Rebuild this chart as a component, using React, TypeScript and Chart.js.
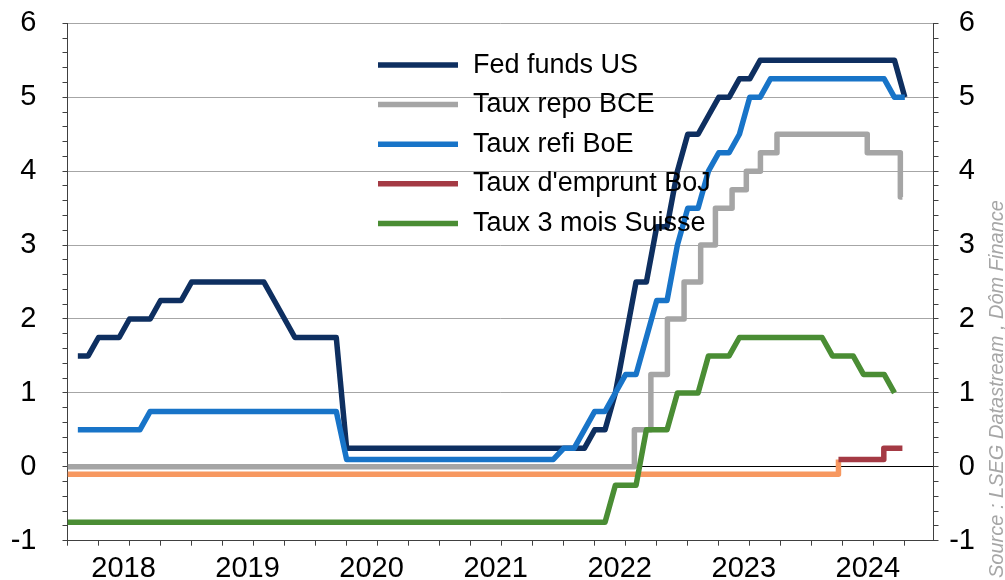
import React, { useEffect, useRef } from 'react';
import { Chart, registerables } from 'chart.js';

Chart.register(...registerables);

const FONT = "'Liberation Sans', Arial, sans-serif";

// ---------- Data ----------
const yearLabels = ['2018', '2019', '2020', '2021', '2022', '2023', '2024'];
const yTickLabels = ['-1', '0', '1', '2', '3', '4', '5', '6'];
const sourceText = 'Source : LSEG Datastream , Dôm Finance';

const seriesNames = ['Fed funds US', 'Taux repo BCE', 'Taux refi BoE', "Taux d'emprunt BoJ", 'Taux 3 mois Suisse'];
const seriesColors = ['#0E2F60', '#A5A5A5', '#1874C8', '#A43A44', '#4A8D34'];
const bojNegativeColor = '#F79860';

// Month-end observations, Dec 2017 .. Sep 2024
const monthEnds: string[] = [];
for (let y = 2017; y <= 2024; y++) {
  for (let m = 1; m <= 12; m++) {
    if ((y === 2017 && m < 12) || (y === 2024 && m > 9)) continue;
    monthEnds.push(`${y}-${String(m).padStart(2, '0')}`);
  }
}

const fedFunds: (number | null)[] = [
  null,
  1.5, 1.5, 1.75, 1.75, 1.75, 2, 2, 2, 2.25, 2.25, 2.25, 2.5,
  2.5, 2.5, 2.5, 2.5, 2.5, 2.5, 2.5, 2.25, 2, 1.75, 1.75, 1.75,
  1.75, 1.75, 0.25, 0.25, 0.25, 0.25, 0.25, 0.25, 0.25, 0.25, 0.25, 0.25,
  0.25, 0.25, 0.25, 0.25, 0.25, 0.25, 0.25, 0.25, 0.25, 0.25, 0.25, 0.25,
  0.25, 0.25, 0.5, 0.5, 1, 1.75, 2.5, 2.5, 3.25, 3.25, 4, 4.5,
  4.5, 4.75, 5, 5, 5.25, 5.25, 5.5, 5.5, 5.5, 5.5, 5.5, 5.5,
  5.5, 5.5, 5.5, 5.5, 5.5, 5.5, 5.5, 5.5, 5,
];

const boeRate: (number | null)[] = [
  null,
  0.5, 0.5, 0.5, 0.5, 0.5, 0.5, 0.5, 0.75, 0.75, 0.75, 0.75, 0.75,
  0.75, 0.75, 0.75, 0.75, 0.75, 0.75, 0.75, 0.75, 0.75, 0.75, 0.75, 0.75,
  0.75, 0.75, 0.1, 0.1, 0.1, 0.1, 0.1, 0.1, 0.1, 0.1, 0.1, 0.1,
  0.1, 0.1, 0.1, 0.1, 0.1, 0.1, 0.1, 0.1, 0.1, 0.1, 0.1, 0.25,
  0.25, 0.5, 0.75, 0.75, 1, 1.25, 1.25, 1.75, 2.25, 2.25, 3, 3.5,
  3.5, 4, 4.25, 4.25, 4.5, 5, 5, 5.25, 5.25, 5.25, 5.25, 5.25,
  5.25, 5.25, 5.25, 5.25, 5.25, 5.25, 5.25, 5, 5,
];

const swiss3m: (number | null)[] = [
  -0.75,
  -0.75, -0.75, -0.75, -0.75, -0.75, -0.75, -0.75, -0.75, -0.75, -0.75, -0.75, -0.75,
  -0.75, -0.75, -0.75, -0.75, -0.75, -0.75, -0.75, -0.75, -0.75, -0.75, -0.75, -0.75,
  -0.75, -0.75, -0.75, -0.75, -0.75, -0.75, -0.75, -0.75, -0.75, -0.75, -0.75, -0.75,
  -0.75, -0.75, -0.75, -0.75, -0.75, -0.75, -0.75, -0.75, -0.75, -0.75, -0.75, -0.75,
  -0.75, -0.75, -0.75, -0.75, -0.25, -0.25, -0.25, 0.5, 0.5, 0.5, 1, 1,
  1, 1.5, 1.5, 1.5, 1.75, 1.75, 1.75, 1.75, 1.75, 1.75, 1.75, 1.75,
  1.75, 1.5, 1.5, 1.5, 1.25, 1.25, 1.25, 1, null,
];

// Policy-rate change dates (stepped series)
const ecbDates = ['2018-01-01', '2022-07-27', '2022-09-14', '2022-11-02', '2022-12-21', '2023-02-08', '2023-03-22', '2023-05-10', '2023-06-21', '2023-08-02', '2023-09-20', '2024-06-12', '2024-09-18', '2024-09-24'];
const ecbRates = [0, 0.5, 1.25, 2, 2.5, 3, 3.5, 3.75, 4, 4.25, 4.5, 4.25, 3.65, 3.65];

const bojDates = ['2018-01-01', '2024-03-19', '2024-07-31', '2024-09-24'];
const bojRates = [-0.1, 0.1, 0.25, 0.25];

const axisStart = '2018-01-01';
const axisEnd = '2024-12-25';

// ---------- helpers ----------
const BASE_YEAR = 2018;
function monthEndPos(label: string): number {
  const [y, m] = label.split('-').map(Number);
  return (y - BASE_YEAR) * 12 + m;
}
function datePos(date: string): number {
  const [y, m, d] = date.split('-').map(Number);
  const dim = new Date(y, m, 0).getDate();
  return (y - BASE_YEAR) * 12 + (m - 1) + (d - 1) / dim;
}
const monthly = (vals: (number | null)[]) => monthEnds.map((lab, i) => ({ x: monthEndPos(lab), y: vals[i] }));
const stepped = (dates: string[], vals: number[]) => dates.map((d, i) => ({ x: datePos(d), y: vals[i] }));

const isInt = (v: number) => Math.abs(v - Math.round(v)) < 1e-6;

const overlayPlugin = {
  id: 'overlay',
  afterDatasetsDraw(chart: any) {
    const ctx = chart.ctx as CanvasRenderingContext2D;
    ctx.save();
    ctx.font = `27px ${FONT}`;
    ctx.textBaseline = 'alphabetic';
    ctx.textAlign = 'left';
    seriesNames.forEach((name, i) => {
      const base = 72.5 + i * 39.6;
      ctx.strokeStyle = seriesColors[i];
      ctx.lineWidth = 5.5;
      ctx.lineCap = 'butt';
      ctx.beginPath();
      ctx.moveTo(378, base - 7.5);
      ctx.lineTo(458, base - 7.5);
      ctx.stroke();
      ctx.fillStyle = '#000';
      ctx.fillText(name, 473, base);
    });
    ctx.restore();

    ctx.save();
    ctx.translate(1003, 578);
    ctx.rotate(-Math.PI / 2);
    ctx.font = `italic 20px ${FONT}`;
    ctx.fillStyle = '#A6A6A6';
    ctx.textAlign = 'left';
    ctx.textBaseline = 'alphabetic';
    ctx.fillText(sourceText, 0, 0);
    ctx.restore();
  },
};

export default function App() {
  const ref = useRef<HTMLCanvasElement | null>(null);

  useEffect(() => {
    if (!ref.current) return;
    const lineBase = {
      pointRadius: 0,
      borderWidth: 5.5,
      borderJoinStyle: 'round' as const,
      tension: 0,
      fill: false,
    };
    const yMin = Number(yTickLabels[0]);
    const yMax = Number(yTickLabels[yTickLabels.length - 1]);
    const zeroPad = (s: any) => { s.paddingTop = 0; s.paddingBottom = 0; s.paddingLeft = 0; s.paddingRight = 0; };

    const chart = new Chart(ref.current, {
      type: 'line',
      data: {
        datasets: [
          { ...lineBase, label: seriesNames[0], data: monthly(fedFunds), borderColor: seriesColors[0], order: 5 },
          { ...lineBase, label: seriesNames[1], data: stepped(ecbDates, ecbRates), borderColor: seriesColors[1], stepped: 'before', order: 4 },
          { ...lineBase, label: seriesNames[2], data: monthly(boeRate), borderColor: seriesColors[2], order: 3 },
          {
            ...lineBase, label: seriesNames[3], data: stepped(bojDates, bojRates), borderColor: seriesColors[3], stepped: 'before', order: 2,
            segment: { borderColor: (c: any) => (c.p0.parsed.y < 0 ? bojNegativeColor : seriesColors[3]) },
          },
          { ...lineBase, label: seriesNames[4], data: monthly(swiss3m), borderColor: seriesColors[4], order: 1 },
        ] as any,
      },
      options: {
        responsive: false,
        animation: false,
        devicePixelRatio: 1,
        layout: { padding: { top: 23.4, left: 0, right: 30, bottom: 0 } },
        plugins: { legend: { display: false }, tooltip: { enabled: false } },
        scales: {
          x: {
            type: 'linear',
            min: datePos(axisStart),
            max: datePos(axisEnd),
            afterFit: (s: any) => { s.height = 39.3; zeroPad(s); },
            border: { display: true, color: '#404040', width: 1 },
            grid: { drawOnChartArea: false, tickLength: 5, tickColor: '#404040', color: '#404040' },
            ticks: {
              stepSize: 3,
              autoSkip: false,
              maxRotation: 0,
              includeBounds: false,
              padding: 6,
              labelOffset: -6,
              color: '#000',
              font: { family: FONT, size: 29 },
              callback: (v: any) => {
                const n = Math.round(Number(v));
                if (n % 12 === 6) return yearLabels[(n - 6) / 12] ?? '';
                return '';
              },
            },
          },
          y: {
            position: 'left',
            min: yMin,
            max: yMax,
            afterFit: (s: any) => { s.width = 67.5; zeroPad(s); },
            border: { display: true, color: '#404040', width: 1 },
            grid: {
              tickLength: 5,
              tickColor: '#404040',
              lineWidth: 1,
              color: (c: any) => {
                const v = c.tick ? c.tick.value : NaN;
                if (Math.abs(v) < 1e-6) return '#000000';
                if (isInt(v) && v > yMin) return '#A6A6A6';
                return 'rgba(0,0,0,0)';
              },
            },
            ticks: {
              stepSize: 0.2,
              autoSkip: false,
              padding: 26,
              color: '#000',
              font: { family: FONT, size: 29 },
              callback: (v: any) => {
                const n = Number(v);
                return isInt(n) ? yTickLabels[Math.round(n) - yMin] : '';
              },
            },
          },
          y2: {
            position: 'right',
            min: yMin,
            max: yMax,
            afterFit: (s: any) => { s.width = 41.5; zeroPad(s); },
            border: { display: true, color: '#404040', width: 1 },
            grid: { drawOnChartArea: false, tickLength: 5, tickColor: '#404040', color: '#404040' },
            ticks: {
              stepSize: 0.2,
              autoSkip: false,
              padding: 10,
              crossAlign: 'far',
              color: '#000',
              font: { family: FONT, size: 29 },
              callback: (v: any) => {
                const n = Number(v);
                return isInt(n) ? yTickLabels[Math.round(n) - yMin] : '';
              },
            },
          },
        },
      } as any,
      plugins: [overlayPlugin],
    });
    return () => chart.destroy();
  }, []);

  return (
    <div style={{ position: 'fixed', left: 0, top: 0, width: 1005, height: 580, background: '#fff' }}>
      <canvas ref={ref} width={1005} height={580} style={{ display: 'block', width: 1005, height: 580 }} />
    </div>
  );
}
